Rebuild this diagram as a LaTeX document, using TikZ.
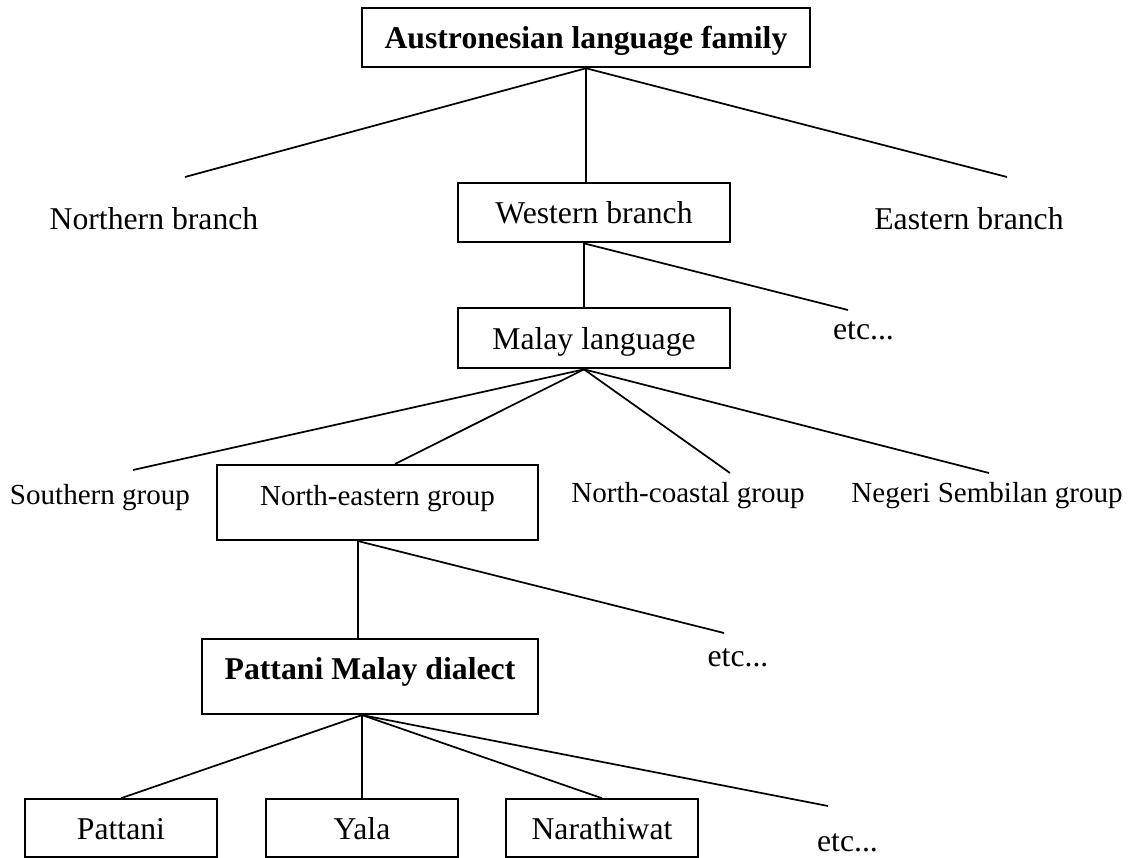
\documentclass[tikz,border=0pt]{standalone}
\usepackage{fontspec}
\setmainfont{Liberation Serif}

\begin{document}
\begin{tikzpicture}[x=1.3302cm, y=-1.3302cm, line width=0.65pt,
  box/.style={draw, line width=0.8pt, inner sep=0pt, text height=8.2pt, text depth=0pt},
  tallbox/.style={draw, line width=0.8pt, inner sep=0pt, text height=8.2pt, text depth=5.9pt},
  bigtxt/.style={font=\fontsize{12}{14}\selectfont},
  smalltxt/.style={font=\fontsize{11}{13}\selectfont},
  boldtxt/.style={font=\fontsize{12}{14}\selectfont\bfseries}]
\useasboundingbox (0.000000,0.000000) rectangle (11.360000,8.580000);
\node (family) at (5.860000,0.377000) [box, boldtxt, minimum width=5.960cm, minimum height=0.785cm] {Austronesian language family};
\node (northern) at (1.540000,2.300000) [anchor=base, bigtxt] {Northern branch};
\node (western) at (5.940000,2.128000) [box, bigtxt, minimum width=3.618cm, minimum height=0.785cm] {Western branch};
\node (eastern) at (9.690000,2.300000) [anchor=base, bigtxt] {Eastern branch};
\node (malay) at (5.940000,3.383000) [box, bigtxt, minimum width=3.618cm, minimum height=0.798cm] {Malay language};
\node (etcwest) at (8.635000,3.400000) [anchor=base, bigtxt] {etc...};
\node (southern) at (1.000000,5.050000) [anchor=base, smalltxt] {Southern group};
\node (northeast) at (3.775000,5.025000) [tallbox, smalltxt, minimum width=4.270cm, minimum height=0.998cm] {North-eastern group};
\node (northcoast) at (6.880000,5.030000) [anchor=base, smalltxt] {North-coastal group};
\node (negeri) at (9.870000,5.030000) [anchor=base, smalltxt] {Negeri Sembilan group};
\node (pattanimalay) at (3.700000,6.765000) [tallbox, boldtxt, minimum width=4.470cm, minimum height=0.998cm] {Pattani Malay dialect};
\node (etcnortheast) at (7.380000,6.670000) [anchor=base, bigtxt] {etc...};
\node (pattani) at (1.210000,8.283000) [box, bigtxt, minimum width=2.554cm, minimum height=0.772cm] {Pattani};
\node (yala) at (3.620000,8.283000) [box, bigtxt, minimum width=2.554cm, minimum height=0.772cm] {Yala};
\node (narathiwat) at (6.020000,8.283000) [box, bigtxt, minimum width=2.554cm, minimum height=0.772cm] {Narathiwat};
\node (etcdialect) at (8.475000,8.520000) [anchor=base, bigtxt] {etc...};
\coordinate (northern-end) at (1.850000,1.770000);
\coordinate (eastern-end) at (10.070000,1.770000);
\coordinate (etcwest-end) at (8.480000,3.100000);
\coordinate (southern-end) at (1.330000,4.700000);
\coordinate (northeast-end) at (3.950000,4.640000);
\coordinate (northcoast-end) at (7.300000,4.730000);
\coordinate (negeri-end) at (9.890000,4.730000);
\coordinate (etcnortheast-end) at (7.240000,6.330000);
\coordinate (etcdialect-end) at (8.280000,8.060000);
\coordinate (western-hub) at ([xshift=-0.133cm]western.south);
\coordinate (malay-hub) at ([xshift=-0.133cm]malay.south);
\coordinate (northeast-hub) at ([xshift=-0.260cm]northeast.south);
\coordinate (pattanimalay-hub) at ([xshift=-0.106cm]pattanimalay.south);
\draw (family.south) -- (northern-end);
\draw (family.south) -- (family.south |- western.north);
\draw (family.south) -- (eastern-end);
\draw (western-hub) -- (western-hub |- malay.north);
\draw (western-hub) -- (etcwest-end);
\draw (malay-hub) -- (southern-end);
\draw (malay-hub) -- (northeast-end);
\draw (malay-hub) -- (northcoast-end);
\draw (malay-hub) -- (negeri-end);
\draw (northeast-hub) -- (northeast-hub |- pattanimalay.north);
\draw (northeast-hub) -- (etcnortheast-end);
\draw (pattanimalay-hub) -- (pattani.north);
\draw (pattanimalay-hub) -- (yala.north);
\draw (pattanimalay-hub) -- (narathiwat.north);
\draw (pattanimalay-hub) -- (etcdialect-end);
\end{tikzpicture}
\end{document}
